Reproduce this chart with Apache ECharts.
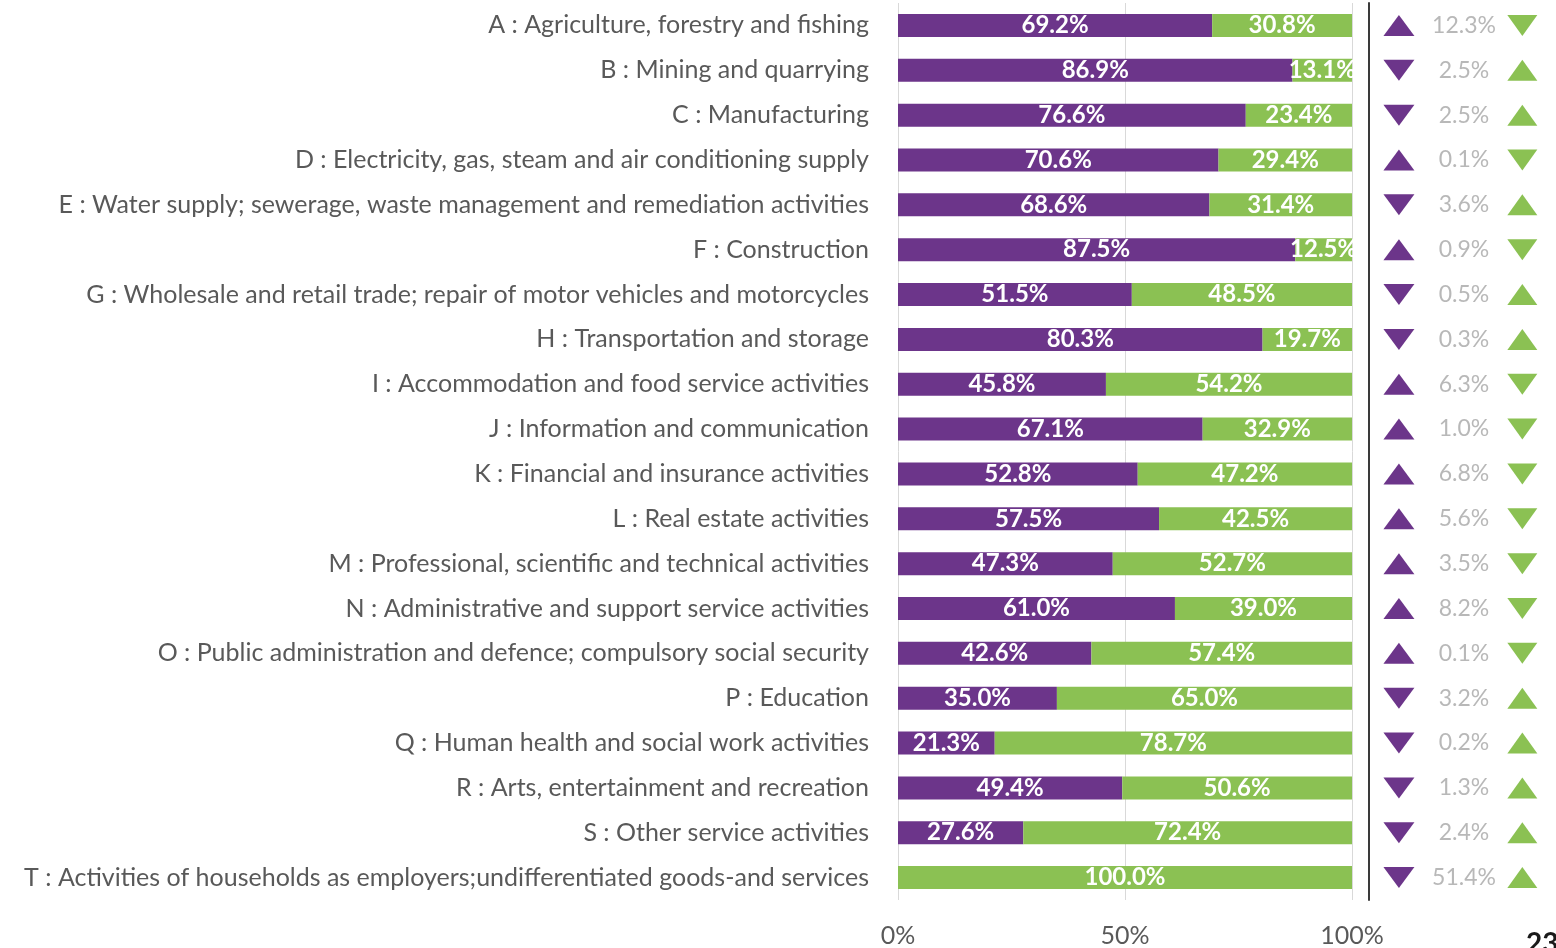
<!DOCTYPE html>
<html>
<head>
<meta charset="utf-8">
<script src="https://cdn.jsdelivr.net/npm/echarts@6/dist/echarts.min.js"></script>
<style>
  html, body { margin: 0; padding: 0; background: #ffffff; }
  #chart { width: 1556px; height: 948px; }
</style>
</head>
<body>
<div id="chart"></div>
<script>
// Sector categories (NACE sections)
const categories = [
  'A : Agriculture, forestry and fishing',
  'B : Mining and quarrying',
  'C : Manufacturing',
  'D : Electricity, gas, steam and air conditioning supply',
  'E : Water supply; sewerage, waste management and remediation activities',
  'F : Construction',
  'G : Wholesale and retail trade; repair of motor vehicles and motorcycles',
  'H : Transportation and storage',
  'I : Accommodation and food service activities',
  'J : Information and communication',
  'K : Financial and insurance activities',
  'L : Real estate activities',
  'M : Professional, scientific and technical activities',
  'N : Administrative and support service activities',
  'O : Public administration and defence; compulsory social security',
  'P : Education',
  'Q : Human health and social work activities',
  'R : Arts, entertainment and recreation',
  'S : Other service activities',
  'T : Activities of households as employers;undifferentiated goods-and services'
];

// Share of each sector (percent), purple and green groups
const purpleShare = [69.2, 86.9, 76.6, 70.6, 68.6, 87.5, 51.5, 80.3, 45.8, 67.1, 52.8, 57.5, 47.3, 61.0, 42.6, 35.0, 21.3, 49.4, 27.6, 0];
const greenShare  = [30.8, 13.1, 23.4, 29.4, 31.4, 12.5, 48.5, 19.7, 54.2, 32.9, 47.2, 42.5, 52.7, 39.0, 57.4, 65.0, 78.7, 50.6, 72.4, 100.0];

// Change in share (percentage points) and direction for the purple group
const changeValues = [12.3, 2.5, 2.5, 0.1, 3.6, 0.9, 0.5, 0.3, 6.3, 1.0, 6.8, 5.6, 3.5, 8.2, 0.1, 3.2, 0.2, 1.3, 2.4, 51.4];
const purpleDirection = ['up', 'down', 'down', 'up', 'down', 'up', 'down', 'down', 'up', 'up', 'up', 'up', 'up', 'up', 'up', 'down', 'down', 'down', 'down', 'down'];

// Axis tick values
const xTicks = [0, 50, 100];

const PURPLE = '#6C358A';
const GREEN = '#8BC153';
const FONT = 'Lato, "Open Sans", sans-serif';

const chart = echarts.init(document.getElementById('chart'), null, { renderer: 'canvas' });

const barLabel = {
  show: true,
  position: 'inside',
  color: '#ffffff',
  fontFamily: FONT,
  fontWeight: 'bold',
  fontSize: 24,
  formatter: p => (p.value > 0 ? p.value.toFixed(1) + '%' : '')
};

const option = {
  animation: false,
  backgroundColor: '#ffffff',
  grid: [
    { left: 898, width: 454, top: 3, height: 897 },
    { left: 1369, width: 187, top: 3, height: 897 }
  ],
  xAxis: [
    {
      gridIndex: 0, type: 'value', min: xTicks[0], max: xTicks[xTicks.length - 1], interval: xTicks[1] - xTicks[0],
      axisLine: { show: false }, axisTick: { show: false },
      splitLine: { show: true, lineStyle: { color: '#D9D9D9', width: 1 } },
      axisLabel: { formatter: '{value}%', color: '#595959', fontFamily: FONT, fontSize: 25, margin: 23 }
    },
    { gridIndex: 1, type: 'value', min: 0, max: 1, show: false }
  ],
  yAxis: [
    {
      gridIndex: 0, type: 'category', data: categories, inverse: true,
      axisLine: { show: false }, axisTick: { show: false },
      axisLabel: { color: '#595959', fontFamily: FONT, fontSize: 25, margin: 29 }
    },
    {
      gridIndex: 1, type: 'category', data: categories, inverse: true,
      axisLine: { show: true, lineStyle: { color: '#3A3A3A', width: 2 } },
      axisTick: { show: false }, axisLabel: { show: false }, splitLine: { show: false }
    }
  ],
  series: [
    {
      name: 'Purple share', type: 'bar', stack: 'share', xAxisIndex: 0, yAxisIndex: 0,
      data: purpleShare, barWidth: 23, itemStyle: { color: PURPLE }, label: barLabel
    },
    {
      name: 'Green share', type: 'bar', stack: 'share', xAxisIndex: 0, yAxisIndex: 0,
      data: greenShare, barWidth: 23, itemStyle: { color: GREEN }, label: barLabel
    },
    {
      name: 'Purple change', type: 'scatter', xAxisIndex: 1, yAxisIndex: 1,
      symbol: 'triangle', symbolSize: [31, 21],
      itemStyle: { color: PURPLE, opacity: 1 },
      data: categories.map((c, i) => ({ value: [0.16, c], symbolRotate: purpleDirection[i] === 'up' ? 0 : 180 }))
    },
    {
      name: 'Change value', type: 'scatter', xAxisIndex: 1, yAxisIndex: 1,
      symbolSize: 1, itemStyle: { color: 'rgba(0,0,0,0)' },
      label: {
        show: true, position: 'inside', color: '#A6A6A6', fontFamily: FONT, fontSize: 23,
        formatter: p => changeValues[p.dataIndex].toFixed(1) + '%'
      },
      data: categories.map(c => [0.508, c])
    },
    {
      name: 'Green change', type: 'scatter', xAxisIndex: 1, yAxisIndex: 1,
      symbol: 'triangle', symbolSize: [30, 21],
      itemStyle: { color: GREEN, opacity: 1 },
      data: categories.map((c, i) => ({ value: [0.82, c], symbolRotate: purpleDirection[i] === 'up' ? 180 : 0 }))
    }
  ],
  graphic: [
    {
      type: 'text', left: 1526, top: 930,
      style: { text: '23', fill: '#1A1A1A', fontFamily: FONT, fontWeight: 'bold', fontSize: 28 }
    }
  ]
};

chart.setOption(option);
</script>
</body>
</html>
